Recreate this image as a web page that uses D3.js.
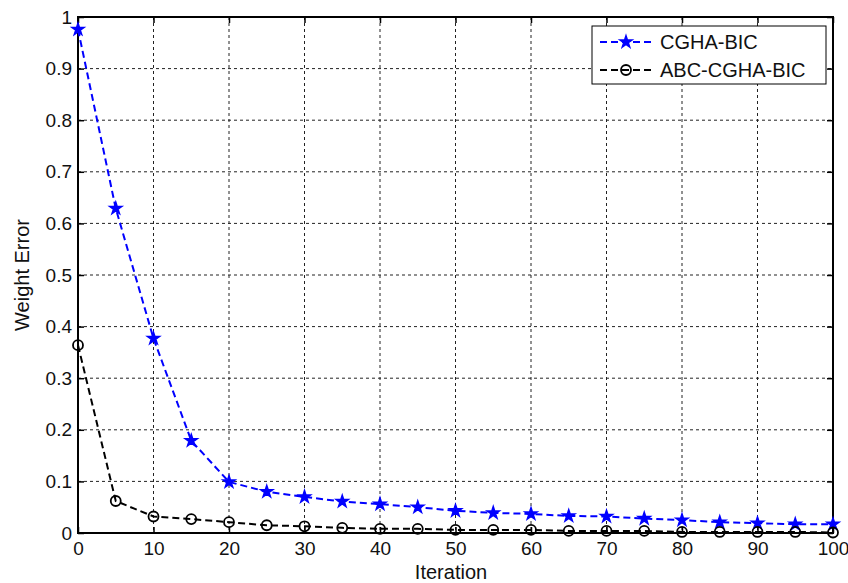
<!DOCTYPE html>
<html>
<head>
<meta charset="utf-8">
<script src="https://cdn.jsdelivr.net/npm/d3@7"></script>
<style>
  body { margin: 0; background: #fff; }
  text { font-family: "Liberation Sans", Arial, sans-serif; fill: #111; }
</style>
</head>
<body>
<div id="chart"></div>
<script>
const iterations = [0, 5, 10, 15, 20, 25, 30, 35, 40, 45, 50, 55, 60, 65, 70, 75, 80, 85, 90, 95, 100];
const cghaBic = [0.976, 0.629, 0.377, 0.179, 0.099, 0.080, 0.070, 0.061, 0.056, 0.050, 0.043, 0.039, 0.037, 0.033, 0.032, 0.028, 0.025, 0.021, 0.019, 0.017, 0.017];
const abcCghaBic = [0.364, 0.062, 0.032, 0.027, 0.021, 0.015, 0.013, 0.010, 0.008, 0.008, 0.006, 0.006, 0.006, 0.004, 0.004, 0.004, 0.002, 0.002, 0.002, 0.002, 0.001];
const xTicks = [0, 10, 20, 30, 40, 50, 60, 70, 80, 90, 100];
const yTicks = [0, 0.1, 0.2, 0.3, 0.4, 0.5, 0.6, 0.7, 0.8, 0.9, 1];
const seriesNames = ['CGHA-BIC', 'ABC-CGHA-BIC'];

const width = 848, height = 583;
const plotLeft = 78, plotRight = 833, plotTop = 17, plotBottom = 533;

const svg = d3.select('#chart')
    .append('svg')
    .attr('width', width)
    .attr('height', height);

const x = d3.scaleLinear().domain([0, 100]).range([plotLeft, plotRight]);
const y = d3.scaleLinear().domain([0, 1]).range([plotBottom, plotTop]);

// grid
svg.append('g')
    .selectAll('line')
    .data(xTicks.slice(1, -1))
    .join('line')
    .attr('x1', d => x(d)).attr('x2', d => x(d))
    .attr('y1', plotTop).attr('y2', plotBottom)
    .attr('stroke', '#222')
    .attr('stroke-dasharray', '3,3');

svg.append('g')
    .selectAll('line')
    .data(yTicks.slice(1, -1))
    .join('line')
    .attr('y1', d => y(d)).attr('y2', d => y(d))
    .attr('x1', plotLeft).attr('x2', plotRight)
    .attr('stroke', '#222')
    .attr('stroke-dasharray', '3,3');

// axes with inward ticks
const fmt = d => d3.format('~g')(d);
const axisStyle = g => {
    g.select('.domain').remove();
    g.selectAll('.tick line').attr('stroke', '#000').attr('stroke-width', 1.5);
    g.selectAll('.tick text').style('font-size', '19px').attr('fill', '#111');
};

svg.append('g')
    .attr('transform', `translate(0,${plotBottom})`)
    .call(d3.axisBottom(x).tickValues(xTicks).tickFormat(fmt).tickSize(-6).tickPadding(9))
    .call(axisStyle);
svg.append('g')
    .attr('transform', `translate(0,${plotTop})`)
    .call(d3.axisTop(x).tickValues(xTicks).tickFormat('').tickSize(-6))
    .call(axisStyle);
svg.append('g')
    .attr('transform', `translate(${plotLeft},0)`)
    .call(d3.axisLeft(y).tickValues(yTicks).tickFormat(fmt).tickSize(-6).tickPadding(6))
    .call(axisStyle);
svg.append('g')
    .attr('transform', `translate(${plotRight},0)`)
    .call(d3.axisRight(y).tickValues(yTicks).tickFormat('').tickSize(-6))
    .call(axisStyle);

svg.append('rect')
    .attr('x', plotLeft).attr('y', plotTop)
    .attr('width', plotRight - plotLeft).attr('height', plotBottom - plotTop)
    .attr('fill', 'none')
    .attr('stroke', '#000')
    .attr('stroke-width', 2);

// series
const line = d3.line()
    .x((d, i) => x(iterations[i]))
    .y(d => y(d));

svg.append('path')
    .datum(cghaBic)
    .attr('d', line)
    .attr('fill', 'none')
    .attr('stroke', '#0000ff')
    .attr('stroke-width', 2)
    .attr('stroke-dasharray', '7,4');

svg.append('path')
    .datum(abcCghaBic)
    .attr('d', line)
    .attr('fill', 'none')
    .attr('stroke', '#000')
    .attr('stroke-width', 2)
    .attr('stroke-dasharray', '7,4');

const star = d3.symbol().type(d3.symbolStar).size(45);

svg.append('g')
    .selectAll('path')
    .data(cghaBic)
    .join('path')
    .attr('transform', (d, i) => `translate(${x(iterations[i])},${y(d)})`)
    .attr('d', star)
    .attr('fill', '#0000ff')
    .attr('stroke', '#0000ff')
    .attr('stroke-width', 1.5);

svg.append('g')
    .selectAll('circle')
    .data(abcCghaBic)
    .join('circle')
    .attr('cx', (d, i) => x(iterations[i]))
    .attr('cy', d => y(d))
    .attr('r', 5)
    .attr('fill', 'none')
    .attr('stroke', '#000')
    .attr('stroke-width', 1.8);

// legend
const legend = svg.append('g');
legend.append('rect')
    .attr('x', 592).attr('y', 26)
    .attr('width', 234).attr('height', 58)
    .attr('fill', '#fff')
    .attr('stroke', '#000')
    .attr('stroke-width', 1);

const legendColors = ['#0000ff', '#000'];
seriesNames.forEach((name, i) => {
    const ly = 42 + i * 28;
    legend.append('line')
        .attr('x1', 600).attr('x2', 652)
        .attr('y1', ly).attr('y2', ly)
        .attr('stroke', legendColors[i])
        .attr('stroke-width', 2)
        .attr('stroke-dasharray', '7,4');
    if (i === 0) {
        legend.append('path')
            .attr('transform', `translate(626,${ly})`)
            .attr('d', star)
            .attr('fill', legendColors[i])
            .attr('stroke', legendColors[i])
            .attr('stroke-width', 1.5);
    } else {
        legend.append('circle')
            .attr('cx', 626).attr('cy', ly).attr('r', 5)
            .attr('fill', 'none')
            .attr('stroke', '#000')
            .attr('stroke-width', 1.8);
    }
    legend.append('text')
        .attr('x', 660).attr('y', ly + 7)
        .style('font-size', '20px')
        .text(name);
});

// axis labels
svg.append('text')
    .attr('x', 451).attr('y', 579)
    .attr('text-anchor', 'middle')
    .style('font-size', '20px')
    .text('Iteration');

svg.append('text')
    .attr('transform', 'translate(29,275) rotate(-90)')
    .attr('text-anchor', 'middle')
    .style('font-size', '20px')
    .text('Weight Error');
</script>
</body>
</html>
